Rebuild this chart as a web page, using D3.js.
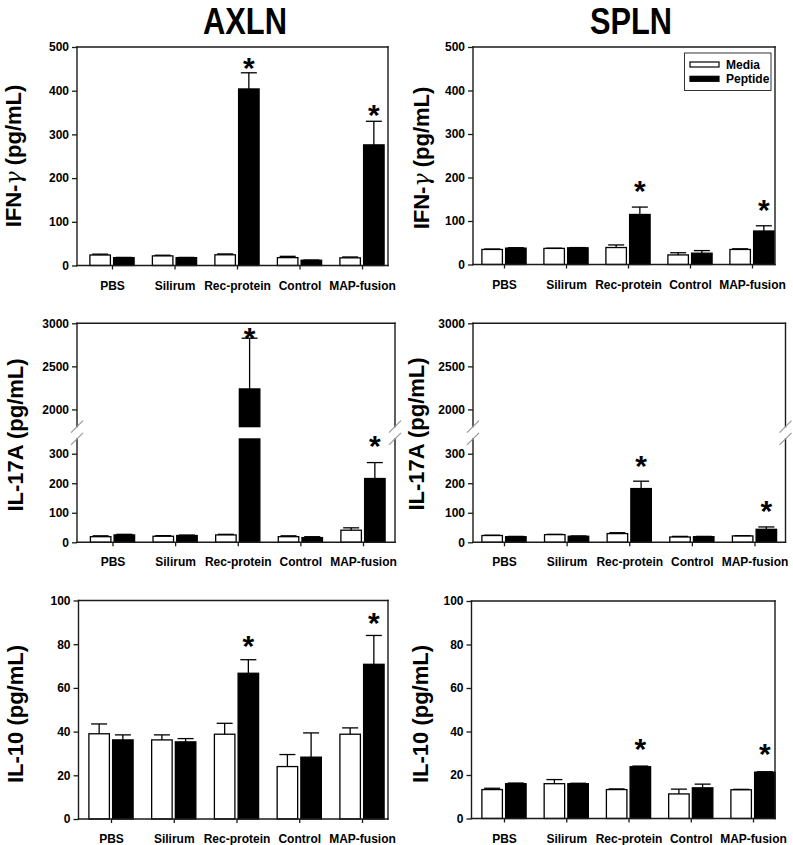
<!DOCTYPE html>
<html><head><meta charset="utf-8">
<script src="https://cdn.jsdelivr.net/npm/d3@7"></script>
<style>
body{margin:0;background:#fff}
svg{display:block}
text{font-family:"Liberation Sans",Arial,Helvetica,sans-serif;font-weight:bold;fill:#000}
</style>
</head><body>
<svg id="chart" width="793" height="845"></svg>
<script>
// ---------------- DATA ----------------
const categories = ["PBS","Silirum","Rec-protein","Control","MAP-fusion"];
const seriesNames = ["Media","Peptide"];
const columnTitles = ["AXLN","SPLN"];

// IFN-γ, AXLN
const ifnAxlnMedia      = [24, 22, 24.5, 18, 17.5];
const ifnAxlnMediaErr   = [2, 1.5, 2, 3, 2];
const ifnAxlnPeptide    = [18, 18, 404, 12, 276];
const ifnAxlnPeptideErr = [0.5, 0.5, 37, 0.5, 54];
const ifnAxlnStars      = [null, null, 466, null, 358];
// IFN-γ, SPLN
const ifnSplnMedia      = [34.6, 37, 39, 22, 34.6];
const ifnSplnMediaErr   = [1, 0.5, 6, 5, 1.5];
const ifnSplnPeptide    = [37.6, 38.4, 115, 26, 77];
const ifnSplnPeptideErr = [1, 0.5, 17, 6, 12];
const ifnSplnStars      = [null, null, 183, null, 139];
// IL-17A, AXLN
const il17AxlnMedia      = [19, 20.5, 25, 19, 41];
const il17AxlnMediaErr   = [3, 2, 2, 3, 8];
const il17AxlnPeptide    = [25, 23, 2238, 16, 216];
const il17AxlnPeptideErr = [2, 1.5, 589, 3, 54];
const il17AxlnStars      = [null, null, 2902, null, 346];
// IL-17A, SPLN
const il17SplnMedia      = [23, 26, 29.5, 18, 21.6];
const il17SplnMediaErr   = [1, 1, 3, 2, 1];
const il17SplnPeptide    = [19, 20.5, 182, 19, 44];
const il17SplnPeptideErr = [1, 1, 25, 1, 8];
const il17SplnStars      = [null, null, 279, null, 125];
// IL-10, AXLN
const il10AxlnMedia      = [39, 36.2, 38.8, 24, 38.8];
const il10AxlnMediaErr   = [4.5, 2.3, 5, 5.5, 2.9];
const il10AxlnPeptide    = [36.2, 35.3, 66.7, 28.3, 70.8];
const il10AxlnPeptideErr = [2.3, 1.5, 6.2, 11.1, 13.2];
const il10AxlnStars      = [null, null, 81.7, null, 92.4];
// IL-10, SPLN
const il10SplnMedia      = [13.3, 16, 13.3, 11.3, 13.2];
const il10SplnMediaErr   = [0.6, 1.9, 0.3, 2.2, 0.2];
const il10SplnPeptide    = [16, 16, 23.8, 14.1, 21.3];
const il10SplnPeptideErr = [0.3, 0.2, 0.3, 1.7, 0.2];
const il10SplnStars      = [null, null, 34.7, null, 32.4];

// tick labels
const ifnTicks = [0,100,200,300,400,500];
const il17LowerTicks = [0,100,200,300];
const il17UpperTicks = [2000,2500,3000];
const il10Ticks = [0,20,40,60,80,100];

// axis domains
const ifnDomain = [0,500];
const il17LowerDomain = [0,350];
const il17UpperDomain = [1800,3000];
const il10Domain = [0,100];

// ---------------- LAYOUT ----------------
const svg = d3.select("#chart");

const panels = [
  {label:"IFN", x0:77, x1:388, c0:112, c4:362, top:47, bottom:265.5, titleX:21, titleY:156,
   media:ifnAxlnMedia, mediaErr:ifnAxlnMediaErr, pep:ifnAxlnPeptide, pepErr:ifnAxlnPeptideErr, stars:ifnAxlnStars,
   segs:[{domain:ifnDomain, ticks:ifnTicks}]},
  {label:"IFN", x0:473, x1:775, c0:504, c4:752, top:47, bottom:264.5, titleX:429, titleY:158, legend:true,
   media:ifnSplnMedia, mediaErr:ifnSplnMediaErr, pep:ifnSplnPeptide, pepErr:ifnSplnPeptideErr, stars:ifnSplnStars,
   segs:[{domain:ifnDomain, ticks:ifnTicks}]},
  {label:"IL-17A (pg/mL)", x0:77, x1:395, c0:112.5, c4:363, top:323.3, bottom:542.3, titleX:22.5, titleY:435,
   media:il17AxlnMedia, mediaErr:il17AxlnMediaErr, pep:il17AxlnPeptide, pepErr:il17AxlnPeptideErr, stars:il17AxlnStars,
   segs:[{domain:il17LowerDomain, ticks:il17LowerTicks},{domain:il17UpperDomain, ticks:il17UpperTicks}]},
  {label:"IL-17A (pg/mL)", x0:473, x1:785.5, c0:504, c4:754.5, top:323.3, bottom:542.3, titleX:424, titleY:434,
   media:il17SplnMedia, mediaErr:il17SplnMediaErr, pep:il17SplnPeptide, pepErr:il17SplnPeptideErr, stars:il17SplnStars,
   segs:[{domain:il17LowerDomain, ticks:il17LowerTicks},{domain:il17UpperDomain, ticks:il17UpperTicks}]},
  {label:"IL-10 (pg/mL)", x0:78.5, x1:388, c0:111, c4:362, top:600.5, bottom:819, titleX:22.5, titleY:714,
   media:il10AxlnMedia, mediaErr:il10AxlnMediaErr, pep:il10AxlnPeptide, pepErr:il10AxlnPeptideErr, stars:il10AxlnStars,
   segs:[{domain:il10Domain, ticks:il10Ticks}]},
  {label:"IL-10 (pg/mL)", x0:471.5, x1:775, c0:504, c4:753, top:601, bottom:818.5, titleX:427.5, titleY:714,
   media:il10SplnMedia, mediaErr:il10SplnMediaErr, pep:il10SplnPeptide, pepErr:il10SplnPeptideErr, stars:il10SplnStars,
   segs:[{domain:il10Domain, ticks:il10Ticks}]}
];

const GAP = 12.3;      // axis break gap (px)
const BAR_W = 20.5;
const BAR_SEP = 1.6;   // half separation between the pair
const CAP_W = 16;
const FRAME = "#1a1a1a";

// column titles
[{t:columnTitles[0], x:245, w:84},{t:columnTitles[1], x:631, w:82}].forEach(d=>{
  svg.append("text").attr("x",d.x).attr("y",33.5).attr("text-anchor","middle")
    .attr("font-size",36).attr("textLength",d.w).attr("lengthAdjust","spacingAndGlyphs")
    .style("font-family","'Liberation Sans Narrow','Liberation Sans',Arial,sans-serif")
    .text(d.t);
});

panels.forEach(p=>{
  const g = svg.append("g");
  // build y segments
  const H = p.bottom - p.top;
  if (p.segs.length === 1) {
    p.segs[0].scale = d3.scaleLinear().domain(p.segs[0].domain).range([p.bottom, p.top]);
  } else {
    const segH = (H - GAP)/2;
    p.segs[0].scale = d3.scaleLinear().domain(p.segs[0].domain).range([p.bottom, p.bottom - segH]);
    p.segs[1].scale = d3.scaleLinear().domain(p.segs[1].domain).range([p.top + segH, p.top]);
  }
  const segFor = v => p.segs.find(s => v >= s.domain[0] && v <= s.domain[1]) || p.segs[p.segs.length-1];

  const x = d3.scalePoint().domain(categories).range([p.c0, p.c4]);

  // bars
  const series = [
    {name:seriesNames[0], vals:p.media, errs:p.mediaErr, off:-1},
    {name:seriesNames[1], vals:p.pep, errs:p.pepErr, off:1}
  ];
  series.forEach(s=>{
    s.vals.forEach((v,i)=>{
      const cx = x(categories[i]);
      const bx = s.off < 0 ? cx - BAR_SEP - BAR_W : cx + BAR_SEP;
      p.segs.forEach(seg=>{
        const lo = Math.max(0, seg.domain[0]);
        if (v <= seg.domain[0] && seg.domain[0] > 0) return;
        const hi = Math.min(v, seg.domain[1]);
        const y0 = seg.scale(lo), y1 = seg.scale(hi);
        g.append("rect").attr("x",bx).attr("y",y1).attr("width",BAR_W).attr("height",Math.max(0,y0-y1))
          .attr("fill", s.off<0 ? "#fff" : "#000").attr("stroke","#000").attr("stroke-width",1.3);
      });
      // error bar (upper only)
      const e = s.errs[i];
      const top = v + e;
      const segT = segFor(top);
      const ex = bx + BAR_W/2;
      g.append("line").attr("x1",ex).attr("x2",ex).attr("y1",segFor(v).scale(v)).attr("y2",segT.scale(top))
        .attr("stroke","#000").attr("stroke-width",1.3);
      g.append("line").attr("x1",ex-CAP_W/2).attr("x2",ex+CAP_W/2).attr("y1",segT.scale(top)).attr("y2",segT.scale(top))
        .attr("stroke","#000").attr("stroke-width",1.3);
    });
  });

  // asterisks
  p.stars.forEach((sv,i)=>{
    if (sv == null) return;
    const cx = x(categories[i]) + BAR_SEP + BAR_W/2;
    const yc = segFor(sv).scale(sv);
    g.append("text").attr("x",cx).attr("y",yc + 16).attr("text-anchor","middle")
      .attr("font-size",30).text("*");
  });

  // y axes
  p.segs.forEach(seg=>{
    const ax = g.append("g").attr("transform",`translate(${p.x0},0)`)
      .call(d3.axisLeft(seg.scale).tickValues(seg.ticks).tickSize(5).tickPadding(3).tickFormat(d3.format("d")));
    ax.select(".domain").remove();
    ax.selectAll(".tick line").attr("stroke",FRAME).attr("stroke-width",1.3);
    ax.selectAll(".tick text").attr("font-size",12).style("font-weight","bold")
      .style("font-family","'Liberation Sans',Arial,sans-serif").attr("fill","#111");
  });

  // x axis
  const xa = g.append("g").attr("transform",`translate(0,${p.bottom})`)
    .call(d3.axisBottom(x).tickSize(4).tickPadding(11.5));
  xa.select(".domain").remove();
  xa.selectAll(".tick line").attr("stroke",FRAME).attr("stroke-width",1.3);
  xa.selectAll(".tick text").attr("font-size",12).style("font-weight","bold")
    .style("font-family","'Liberation Sans',Arial,sans-serif").attr("fill","#111");

  // frame
  const line = (x1,y1,x2,y2,c,w)=>g.append("line").attr("x1",x1).attr("y1",y1).attr("x2",x2).attr("y2",y2)
      .attr("stroke",c||FRAME).attr("stroke-width",w||1.4).attr("stroke-linecap","square");
  line(p.x0,p.top,p.x1,p.top);
  line(p.x0,p.bottom,p.x1,p.bottom);
  p.segs.forEach(seg=>{
    const [yb, yt] = seg.scale.range();
    line(p.x0,yb,p.x0,yt);
    line(p.x1,yb,p.x1,yt);
  });
  if (p.segs.length > 1) {
    const yEnds = [p.segs[0].scale.range()[1], p.segs[1].scale.range()[0]];
    [p.x0,p.x1].forEach(ax=>{
      yEnds.forEach(ye=>{
        g.append("line").attr("x1",ax-6).attr("y1",ye+6).attr("x2",ax+6).attr("y2",ye-6)
          .attr("stroke","#9a9a9a").attr("stroke-width",1.2);
      });
    });
  }

  // y title
  const tt = g.append("text").attr("transform",`translate(${p.titleX},${p.titleY}) rotate(-90)`)
    .attr("text-anchor","middle").attr("font-size",22);
  if (p.label === "IFN") {
    tt.append("tspan").text("IFN-");
    tt.append("tspan").style("font-family","'DejaVu Serif',serif").style("font-style","italic")
      .style("font-weight","normal").text("γ");
    tt.append("tspan").text(" (pg/mL)");
  } else {
    tt.text(p.label);
  }

  // legend
  if (p.legend) {
    const lg = g.append("g");
    lg.append("rect").attr("x",684.5).attr("y",53).attr("width",86.5).attr("height",37.5)
      .attr("fill","#fff").attr("stroke","#333").attr("stroke-width",1);
    seriesNames.forEach((n,k)=>{
      lg.append("rect").attr("x",690).attr("y",62 + k*14.3).attr("width",29).attr("height",5)
        .attr("fill", k===0 ? "#fff" : "#000").attr("stroke","#000").attr("stroke-width",1.2);
      lg.append("text").attr("x",726).attr("y",68.5 + k*14.3).attr("font-size",12).text(n);
    });
  }
});
</script>
</body></html>
